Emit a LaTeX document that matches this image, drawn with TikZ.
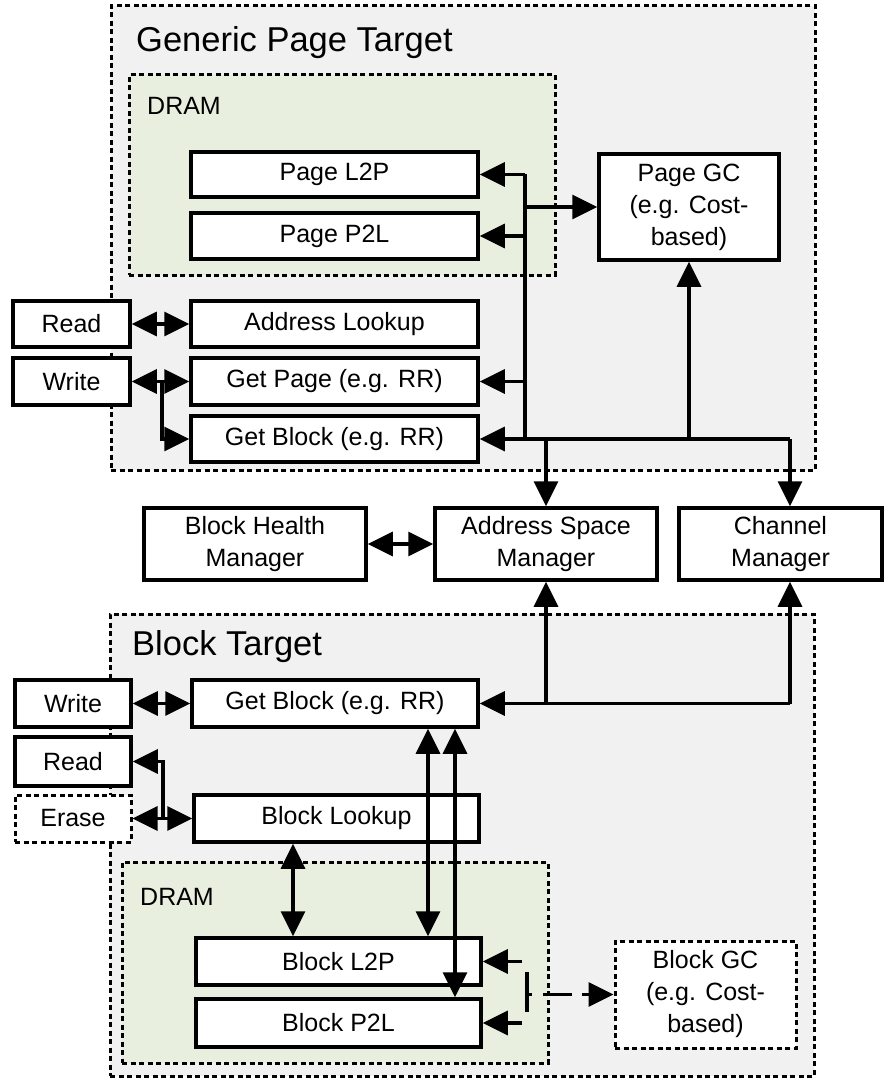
\documentclass[tikz,border=0pt]{standalone}
\usepackage{fontspec}
\setmainfont{Liberation Sans}
\usetikzlibrary{arrows.meta}
\definecolor{bggray}{RGB}{241,241,241}
\definecolor{dramgreen}{RGB}{233,239,222}
\tikzset{
  x=1pt, y=-1pt,
  boxtxt/.style={font=\fontsize{25}{32}\selectfont},
  box/.style={draw, line width=3.5pt, fill=white, inner sep=0pt, align=center, boxtxt},
  dbox/.style={box, line width=3pt, dash pattern=on 5pt off 3.5pt},
  container/.style={draw, line width=3pt, dash pattern=on 5pt off 3.5pt, inner sep=0pt},
  title/.style={anchor=base west, inner sep=0pt, font=\fontsize{34.5}{40}\selectfont},
  dramlbl/.style={anchor=base west, inner sep=0pt, font=\fontsize{25}{30}\selectfont},
  conn/.style={line width=3.5pt},
  tip/.tip={Triangle[length=25pt,width=24pt]},
  arr/.style={conn, -tip},
  darr/.style={conn, tip-tip},
}
\begin{document}
\begin{tikzpicture}
\useasboundingbox (0,0) rectangle (892,1078);
% ---------- Generic Page Target ----------
\node[container, fill=bggray, minimum width=704, minimum height=464] (gpt) at (463,238) {};
\node[title] (gptt) at (136,52) {Generic Page Target};
\node[container, fill=dramgreen, minimum width=426, minimum height=200] (dram1) at (342,175) {};
\node[dramlbl] (dram1t) at (147,115) {DRAM};
\node[box, minimum width=287, minimum height=45] (pl2p) at (334.5,174.5) {Page L2P};
\node[box, minimum width=287, minimum height=46] (pp2l) at (334.5,236) {Page P2L};
\node[box, minimum width=180, minimum height=106] (pgc) at (689,207) {Page GC\\(e.g. Cost-\\based)};
\node[box, minimum width=117, minimum height=46] (read1) at (71.5,324) {Read};
\node[box, minimum width=117, minimum height=47] (write1) at (71.5,381.5) {Write};
\node[box, minimum width=287, minimum height=46] (al) at (334.5,324) {Address Lookup};
\node[box, minimum width=287, minimum height=47] (gp) at (334.5,381.5) {Get Page (e.g. RR)};
\node[box, minimum width=287, minimum height=46] (gb1) at (334.5,439) {Get Block (e.g. RR)};
% ---------- middle row ----------
\node[box, minimum width=222, minimum height=72] (bhm) at (255,544) {Block Health\\Manager};
\node[box, minimum width=222, minimum height=72] (asm) at (546,544) {Address Space\\Manager};
\node[box, minimum width=203, minimum height=72] (cm) at (780.5,544) {Channel\\Manager};
% ---------- Block Target ----------
\node[container, fill=bggray, minimum width=704, minimum height=462] (bt) at (462,845) {};
\node[title] (btt) at (132,655) {Block Target};
\node[box, minimum width=116, minimum height=47] (write2) at (73,703.5) {Write};
\node[box, minimum width=286, minimum height=47] (gb2) at (335,703.5) {Get Block (e.g. RR)};
\node[box, minimum width=116, minimum height=49] (read2) at (73,761.5) {Read};
\node[dbox, minimum width=116, minimum height=47] (erase) at (73,818.5) {Erase};
\node[box, minimum width=285, minimum height=47] (bl) at (336.5,818.5) {Block Lookup};
\node[container, fill=dramgreen, minimum width=426, minimum height=201] (dram2) at (335,962.5) {};
\node[dramlbl] (dram2t) at (140,905) {DRAM};
\node[box, minimum width=285, minimum height=47] (bl2p) at (338.5,961.5) {Block L2P};
\node[box, minimum width=285, minimum height=48] (bp2l) at (338.5,1023) {Block P2L};
\node[dbox, minimum width=181, minimum height=107] (bgc) at (705.5,994.5) {Block GC\\(e.g. Cost-\\based)};
% ---------- helper coordinates ----------
\coordinate (v1) at (525,0);
\coordinate (chx) at (790,0);
\coordinate (j1) at (162,381.5);
\coordinate (j2) at (163,818.5);
\coordinate (x293) at (293,0);
\coordinate (x428) at (428,0);
\coordinate (x455) at (455,0);
\coordinate (in1) at (522,961.5);
\coordinate (in2) at (522,1023);
\coordinate (tickt) at (527,972);
\coordinate (tickb) at (527,1012);
\coordinate (tickm) at (527,994.5);
% ---------- connectors: top ----------
\draw[conn] (v1 |- pl2p.east) -- (v1 |- gb1.east);
\draw[arr] (v1 |- pl2p.east) -- (pl2p.east);
\draw[arr] (v1 |- pp2l.east) -- (pp2l.east);
\draw[arr] (v1 |- gp.east) -- (gp.east);
\draw[arr] (v1 |- pgc.west) -- (pgc.west);
\draw[arr] (chx |- gb1.east) -- (gb1.east);
\draw[arr] (pgc.south |- gb1.east) -- (pgc.south);
\draw[arr] (asm.north |- gb1.east) -- (asm.north);
\draw[arr] (chx |- gb1.east) -- (chx |- cm.north);
\draw[darr] (read1.east) -- (al.west);
\draw[darr] (write1.east) -- (gp.west);
\draw[arr] (j1) |- (gb1.west);
% ---------- middle ----------
\draw[darr] (bhm.east) -- (asm.west);
% ---------- connectors: bottom ----------
\draw[arr] (chx |- gb2.east) -- (gb2.east);
\draw[arr] (asm.south |- gb2.east) -- (asm.south);
\draw[arr] (chx |- gb2.east) -- (chx |- cm.south);
\draw[darr] (write2.east) -- (gb2.west);
\draw[darr] (erase.east) -- (bl.west);
\draw[arr] (j2) |- (read2.east);
\draw[darr] (x293 |- bl.south) -- (x293 |- bl2p.north);
\draw[darr] (x428 |- gb2.south) -- (x428 |- bl2p.north);
\draw[darr] (x455 |- gb2.south) -- (x455 |- bp2l.north);
\draw[arr] (in1) -- (bl2p.east);
\draw[arr] (in2) -- (bp2l.east);
\draw[conn] (tickt) -- (tickb);
\draw[arr, dash pattern=on 5pt off 11pt on 29pt off 10pt on 14pt] (tickm) -- (bgc.west);
\end{tikzpicture}
\end{document}
